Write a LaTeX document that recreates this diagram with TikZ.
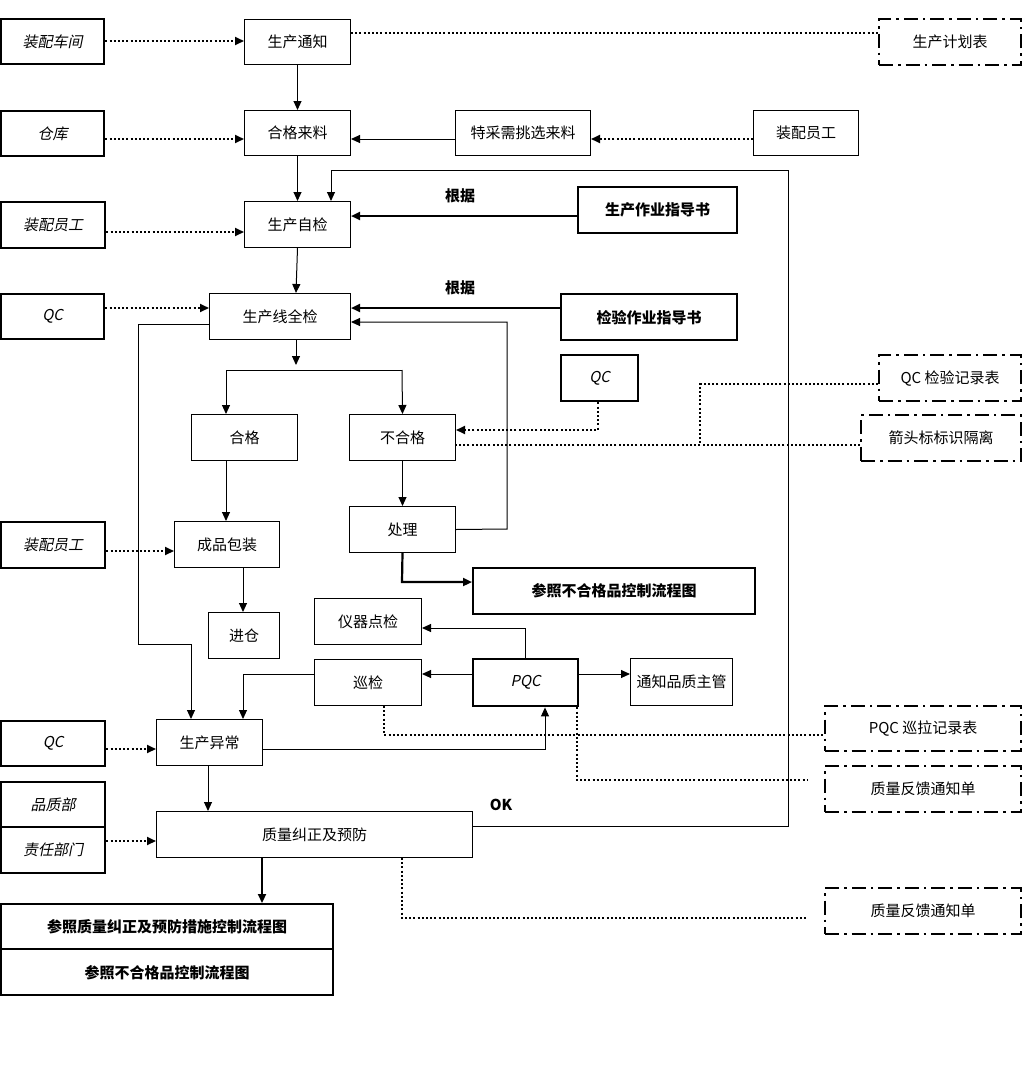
\documentclass[tikz,border=0pt]{standalone}
\usepackage{fontspec}
\setmainfont{Noto Sans CJK SC}
\newfontfamily\slantcjk[FakeSlant=0.2]{Noto Sans CJK SC}
\usetikzlibrary{arrows.meta,calc}
\begin{document}
\begin{tikzpicture}[x=1pt,y=-1pt,
    font=\fontsize{15}{17}\selectfont,
    box/.style={draw,line width=1pt,anchor=north west,inner sep=0pt},
    tbox/.style={box,line width=2.4pt},
    side/.style={tbox,font=\fontsize{15}{17}\selectfont\slantcjk},
    rec/.style={draw,line width=2.2pt,dash pattern=on 14pt off 5pt on 2.5pt off 5pt,anchor=north west,inner sep=0pt},
    arr/.style={line width=1pt,-{Triangle[length=9pt,width=8pt]}},
    tarr/.style={line width=2.2pt,-{Triangle[length=9pt,width=8pt]}},
    ln/.style={line width=1pt},
    dot/.style={line width=2pt,dash pattern=on 2pt off 2.2pt},
    darr/.style={dot,-{Triangle[length=9pt,width=8pt]}},
    lbl/.style={font=\fontsize{15}{17}\selectfont\bfseries}]

    \useasboundingbox (0,0) rectangle (1022,1068);

    % Left column of sources
    \node[side,minimum width=103pt,minimum height=45pt] (s1) at (0,18) {装配车间};
    \node[side,minimum width=103pt,minimum height=45pt] (s2) at (0,110) {仓库};
    \node[side,minimum width=104pt,minimum height=46pt] (s3) at (0,201) {装配员工};
    \node[side,minimum width=103pt,minimum height=45pt] (s4) at (0,293) {QC};
    \node[side,minimum width=104pt,minimum height=46pt] (s5) at (0,521) {装配员工};
    \node[side,minimum width=104pt,minimum height=45pt] (s6) at (0,720) {QC};
    \node[side,minimum width=104pt,minimum height=45pt] (s7) at (0,781) {品质部};
    \node[side,minimum width=104pt,minimum height=46pt] (s8) at (0,826) {责任部门};

    % Main flow
    \node[box,minimum width=106pt,minimum height=45pt] (tz) at (244,19) {生产通知};
    \node[box,minimum width=106pt,minimum height=45pt] (hl) at (244,110) {合格来料};
    \node[box,minimum width=106pt,minimum height=46pt] (zj) at (244,201) {生产自检};
    \node[box,minimum width=141pt,minimum height=46pt] (qj) at (209,293) {生产线全检};
    \node[box,minimum width=135pt,minimum height=45pt] (tc) at (455,110) {特采需挑选来料};
    \node[box,minimum width=105pt,minimum height=45pt] (yg) at (753,110) {装配员工};
    \node[tbox,minimum width=159pt,minimum height=46pt,font=\fontsize{15}{17}\selectfont\bfseries] (zd) at (577,186) {生产作业指导书};
    \node[tbox,minimum width=176pt,minimum height=46pt,font=\fontsize{15}{17}\selectfont\bfseries] (jd) at (560,293) {检验作业指导书};
    \node[tbox,minimum width=77pt,minimum height=46pt,font=\fontsize{15}{17}\selectfont\slantcjk] (qc) at (560,354) {QC};
    \node[box,minimum width=106pt,minimum height=46pt] (hg) at (191,414) {合格};
    \node[box,minimum width=106pt,minimum height=46pt] (bh) at (349,414) {不合格};
    \node[box,minimum width=106pt,minimum height=46pt] (cl) at (349,506) {处理};
    \node[box,minimum width=105pt,minimum height=46pt] (bz) at (174,521) {成品包装};
    \node[box,minimum width=71pt,minimum height=46pt] (jc) at (208,612) {进仓};
    \node[tbox,minimum width=282pt,minimum height=46pt,font=\fontsize{15}{17}\selectfont\bfseries] (ck) at (472,567) {参照不合格品控制流程图};
    \node[box,minimum width=107pt,minimum height=46pt] (yq) at (314,598) {仪器点检};
    \node[box,minimum width=107pt,minimum height=46pt] (xj) at (314,659) {巡检};
    \node[tbox,minimum width=105pt,minimum height=47pt,font=\fontsize{15}{17}\selectfont\slantcjk] (pqc) at (472,658) {PQC};
    \node[box,minimum width=102pt,minimum height=47pt] (zg) at (630,658) {通知品质主管};
    \node[box,minimum width=106pt,minimum height=46pt] (yc) at (156,719) {生产异常};
    \node[box,minimum width=316pt,minimum height=46pt] (jz) at (156,811) {质量纠正及预防};
    \node[tbox,minimum width=332pt,minimum height=45pt,font=\fontsize{15}{17}\selectfont\bfseries] (b1) at (0,903) {参照质量纠正及预防措施控制流程图};
    \node[tbox,minimum width=332pt,minimum height=46pt,font=\fontsize{15}{17}\selectfont\bfseries] (b2) at (0,948) {参照不合格品控制流程图};

    % Records on the right
    \node[rec,minimum width=142pt,minimum height=46pt] (r1) at (878,18) {生产计划表};
    \node[rec,minimum width=142pt,minimum height=46pt] (r2) at (878,354) {QC 检验记录表};
    \node[rec,minimum width=160pt,minimum height=46pt] (r3) at (860,414) {箭头标标识隔离};
    \node[rec,minimum width=196pt,minimum height=45pt] (r4) at (824,705) {PQC 巡拉记录表};
    \node[rec,minimum width=196pt,minimum height=46pt] (r5) at (824,765) {质量反馈通知单};
    \node[rec,minimum width=196pt,minimum height=46pt] (r6) at (824,887) {质量反馈通知单};

    % Labels
    \node[lbl] (g1) at (460,196) {根据};
    \node[lbl] (g2) at (460,288) {根据};
    \node[lbl] (ok) at (501,805) {OK};

    % Dotted inputs from the left
    \draw[darr] (s1.east |- 0,41) -- (tz.west |- 0,41);
    \draw[darr] (s2.east |- 0,139) -- (hl.west |- 0,139);
    \draw[darr] (s3.east |- 0,232) -- (zj.west |- 0,232);
    \draw[darr] (s4.east |- 0,308) -- (qj.west |- 0,308);
    \draw[darr] (s5.east |- 0,551) -- (bz.west |- 0,551);
    \draw[darr] (s6.east |- 0,749) -- (yc.west |- 0,749);
    \draw[darr] (s8.east |- 0,841) -- (jz.west |- 0,841);

    % Main chain
    \draw[dot] (tz.east |- 0,33) -- (r1.west |- 0,33);
    \draw[arr] (tz.south) -- (hl.north);
    \draw[arr] (hl.south) -- (zj.north);
    \draw[arr] (zj.south) -- (296,293);
    \draw[arr] (tc.west |- 0,139) -- (hl.east |- 0,139);
    \draw[darr] (yg.west |- 0,139) -- (tc.east |- 0,139);
    \draw[tarr] (zd.west |- 0,216) -- (zj.east |- 0,216);
    \draw[tarr] (jd.west |- 0,308) -- (qj.east |- 0,308);

    % OK loop back to self check
    \draw[arr] (jz.east |- 0,826) -- (788,826) -- (788,170) -- (331,170) -- (331,201);

    % Split after full inspection
    \draw[arr] (296,339) -- (296,365);
    \draw[ln] (226,370) -- (402,370);
    \draw[arr] (226,370) -- (hg.north -| 226,0);
    \draw[arr] (402,370) -- (bh.north);
    \draw[arr] (hg.south -| 226,0) -- (bz.north -| 226,0);
    \draw[arr] (bz.south -| 243,0) -- (jc.north -| 243,0);
    \draw[arr] (bh.south) -- (cl.north);
    \draw[arr] (cl.east) -- (507,529) -- (507,322) -- (qj.east |- 0,322);
    \draw[tarr] (cl.south) -- (402,582) -- (ck.west |- 0,582);

    % QC marks and records
    \draw[darr] (qc.south -| 598,0) -- (598,430) -- (bh.east |- 0,430);
    \draw[dot] (r3.west |- 0,445) -- (bh.east |- 0,445);
    \draw[dot] (r2.west |- 0,384) -- (700,384) -- (700,445);

    % Left bypass to abnormal
    \draw[arr] (qj.west |- 0,324) -- (138,324) -- (138,644) -- (191,644) -- (yc.north -| 191,0);

    % PQC patrol
    \draw[arr] (pqc.north -| 525,0) -- (525,628) -- (yq.east |- 0,628);
    \draw[arr] (pqc.west |- 0,674) -- (xj.east |- 0,674);
    \draw[arr] (pqc.east |- 0,674) -- (zg.west |- 0,674);
    \draw[arr] (xj.west |- 0,674) -- (243,674) -- (yc.north -| 243,0);
    \draw[arr] (yc.east |- 0,749) -- (545,749) -- (pqc.south -| 545,0);
    \draw[dot] (xj.south -| 384,0) -- (384,735) -- (r4.west |- 0,735);
    \draw[dot] (pqc.south -| 577,0) -- (577,780) -- (808,780);

    % Corrective action
    \draw[arr] (yc.south -| 208,0) -- (jz.north -| 208,0);
    \draw[tarr] (jz.south -| 262,0) -- (b1.north -| 262,0);
    \draw[dot] (jz.south -| 402,0) -- (402,918) -- (808,918);

\end{tikzpicture}
\end{document}
